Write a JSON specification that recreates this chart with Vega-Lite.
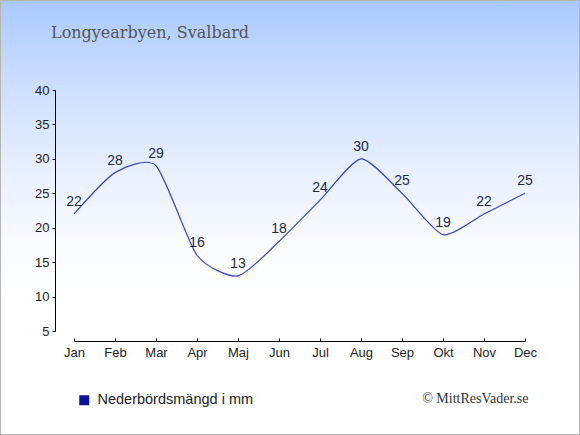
{
  "$schema": "https://vega.github.io/schema/vega-lite/v6.json",
  "width": 580,
  "height": 435,
  "autosize": {"type": "none"},
  "padding": 0,
  "background": "white",
  "title": {
    "text": "Longyearbyen, Svalbard",
    "anchor": "start",
    "frame": "group",
    "dx": 51,
    "offset": -55,
    "baseline": "alphabetic",
    "font": "DejaVu Serif",
    "fontSize": 16,
    "fontWeight": "normal",
    "color": "#555555"
  },
  "data": {
    "values": [
      {"month": "Jan", "mm": 22},
      {"month": "Feb", "mm": 28},
      {"month": "Mar", "mm": 29},
      {"month": "Apr", "mm": 16},
      {"month": "Maj", "mm": 13},
      {"month": "Jun", "mm": 18},
      {"month": "Jul", "mm": 24},
      {"month": "Aug", "mm": 30},
      {"month": "Sep", "mm": 25},
      {"month": "Okt", "mm": 19},
      {"month": "Nov", "mm": 22},
      {"month": "Dec", "mm": 25}
    ]
  },
  "layer": [
    {
      "data": {"values": [{"bg": 1}]},
      "mark": {
        "type": "rect",
        "fill": {
          "gradient": "linear",
          "x1": 0, "y1": 0, "x2": 0, "y2": 1,
          "stops": [
            {"offset": 0, "color": "#a9c9ff"},
            {"offset": 0.2, "color": "#cddfff"},
            {"offset": 0.4, "color": "#e9f0ff"},
            {"offset": 0.55, "color": "#f7faff"},
            {"offset": 0.68, "color": "#ffffff"},
            {"offset": 1, "color": "#ffffff"}
          ]
        },
        "stroke": "#b4b4b4",
        "strokeWidth": 2
      },
      "encoding": {}
    },
    {
      "encoding": {
        "x": {
          "field": "month",
          "type": "ordinal",
          "sort": ["Jan","Feb","Mar","Apr","Maj","Jun","Jul","Aug","Sep","Okt","Nov","Dec"],
          "scale": {"type": "point", "range": [74, 525], "padding": 0},
          "axis": {
            "orient": "bottom",
            "offset": -94,
            "zindex": 1,
            "labelAngle": 0,
            "labelFont": "Liberation Sans",
            "labelFontSize": 13,
            "labelColor": "#222222",
            "labelPadding": 8,
            "tickSize": -3,
            "tickColor": "#000000",
            "domainColor": "#000000",
            "grid": false,
            "title": "© MittResVader.se",
            "titleFont": "Liberation Serif",
            "titleFontSize": 14,
            "titleFontWeight": "normal",
            "titleColor": "#333333",
            "titleX": 528,
            "titleY": 61,
            "titleAlign": "right",
            "titleAnchor": "end",
            "titleBaseline": "alphabetic"
          }
        },
        "y": {
          "field": "mm",
          "type": "quantitative",
          "scale": {"domain": [5, 40], "range": [331, 90], "nice": false, "zero": false},
          "axis": {
            "orient": "left",
            "offset": -55,
            "zindex": 1,
            "values": [5, 10, 15, 20, 25, 30, 35, 40],
            "labelFont": "Liberation Sans",
            "labelFontSize": 13,
            "labelColor": "#222222",
            "labelPadding": 3,
            "tickSize": 3,
            "tickColor": "#000000",
            "domainColor": "#000000",
            "grid": false,
            "title": null
          }
        }
      },
      "layer": [
        {
          "mark": {"type": "line", "interpolate": "cardinal", "tension": 0.35, "strokeWidth": 1.2},
          "encoding": {
            "stroke": {
              "datum": "Nederbördsmängd i mm",
              "scale": {"range": ["#3a46c4"]},
              "legend": {
                "title": null,
                "orient": "none",
                "legendX": 77,
                "legendY": 393,
                "padding": 0,
                "symbolType": "square",
                "symbolSize": 100,
                "labelFont": "Liberation Sans",
                "labelFontSize": 14.5,
                "labelColor": "#222222",
                "labelOffset": 6,
                "encode": {
                  "symbols": {
                    "update": {
                      "fill": {"value": "#0a14a0"},
                      "stroke": {"value": "#0a14a0"},
                      "strokeWidth": {"value": 0},
                      "opacity": {"value": 1}
                    }
                  }
                }
              }
            }
          }
        },
        {
          "mark": {
            "type": "text",
            "dy": -8,
            "baseline": "alphabetic",
            "font": "Liberation Sans",
            "fontSize": 14,
            "color": "#1c2a4a"
          },
          "encoding": {"text": {"field": "mm", "type": "quantitative"}}
        }
      ]
    }
  ],
  "config": {
    "view": {"stroke": null}
  }
}
